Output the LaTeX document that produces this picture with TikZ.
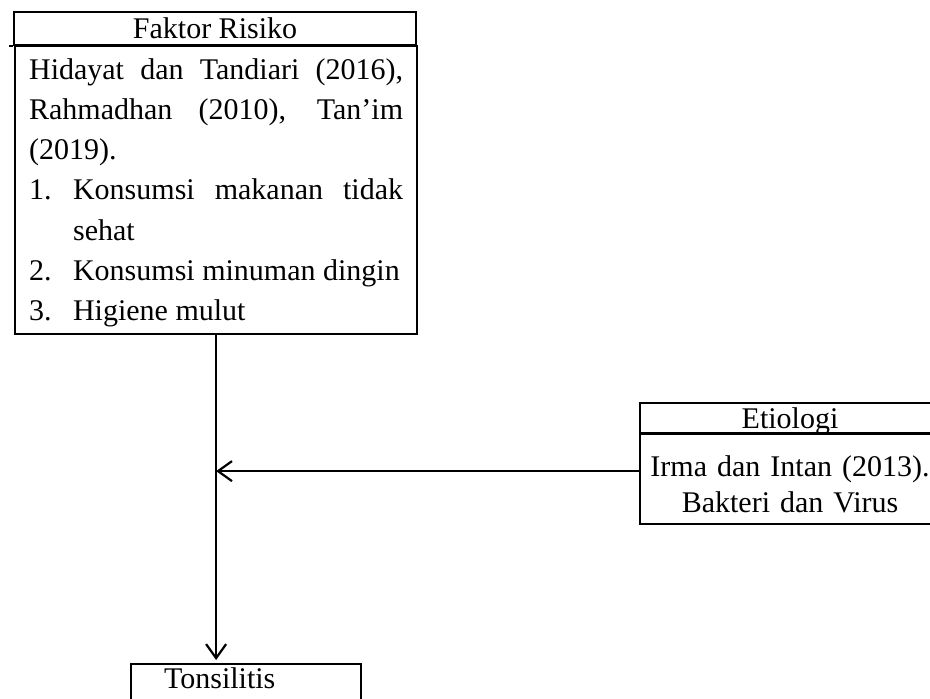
\documentclass[tikz,border=0pt]{standalone}
\usepackage{fontspec}
\setmainfont{Liberation Serif}
\usetikzlibrary{arrows.meta}
\newcommand{\riskitem}[2]{\par\hangindent=22pt\hangafter=1\noindent\makebox[22pt][l]{#1}#2}

\begin{document}
\begin{tikzpicture}[x=0.5pt, y=-0.5pt, line width=1.1pt,
  cellbox/.style={rectangle, draw, inner sep=0pt, font=\fontsize{15}{20.1}\selectfont},
  flowline/.style={-{Straight Barb[length=7pt, width=10pt]}}]
\useasboundingbox (0,0) rectangle (930,698);
\clip (0,0) rectangle (930,698);
\draw (215,28.5) node(faktorhead) [cellbox, minimum width=201pt, minimum height=16.5pt, text depth=0pt] {Faktor Risiko};
\draw (14,45) node(faktorbody) [cellbox, anchor=north west, minimum width=201pt, minimum height=144pt, text width=187pt, align=justify] {\rule{0pt}{13pt}Hidayat dan Tandiari (2016), Rahmadhan (2010), Tan’im (2019).
\riskitem{1.}{Konsumsi makanan tidak sehat}
\riskitem{2.}{Konsumsi minuman dingin}
\riskitem{3.}{Higiene mulut}};
\draw ([xshift=-2pt]faktorhead.south west) -- (faktorhead.south west);
\draw (790,418) node(etiohead) [cellbox, minimum width=150pt, minimum height=15pt, text depth=0pt] {Etiologi};
\draw (790,433) node(etiobody) [cellbox, anchor=north, minimum width=150pt, minimum height=45pt, text width=140pt, align=center, font=\fontsize{15}{18}\selectfont] {\rule{0pt}{16pt}Irma dan Intan (2013).\\Bakteri dan Virus};
\draw (130,663) node(tonsil) [cellbox, anchor=north west, inner xsep=16.5pt, inner ysep=2pt, text width=82pt, text depth=20pt, align=left] {Tonsilitis};
\draw[flowline] (faktorbody.south) -- ([yshift=1.5pt]faktorbody.south |- tonsil.north);
\draw[flowline] ([yshift=4pt]etiobody.west) -- ([yshift=4pt]etiobody.west -| faktorbody.south);
\end{tikzpicture}
\end{document}
